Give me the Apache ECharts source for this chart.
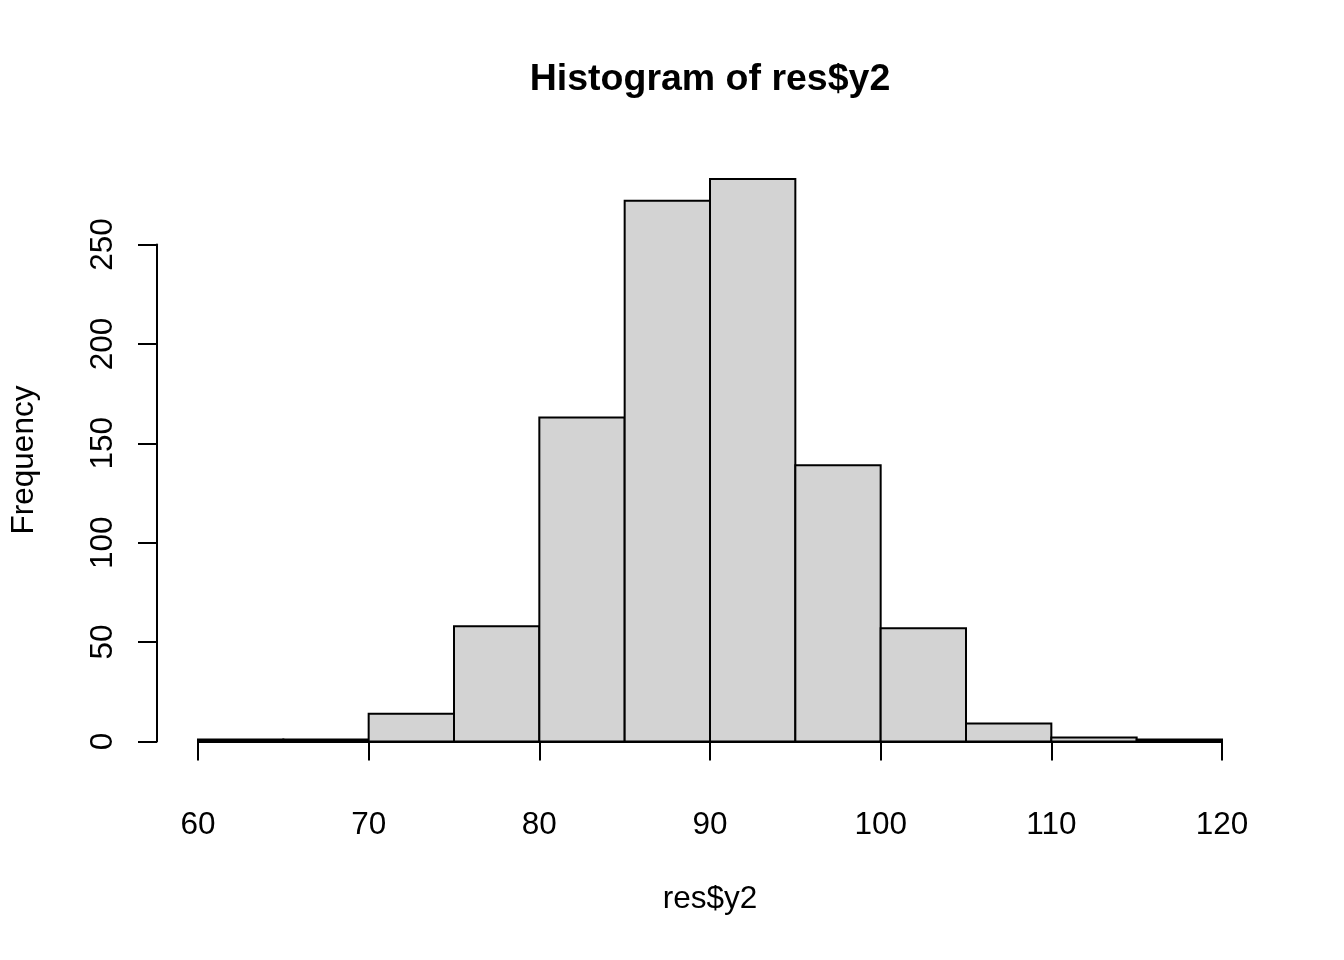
<!DOCTYPE html>
<html>
<head>
<meta charset="utf-8">
<script src="https://cdn.jsdelivr.net/npm/echarts@6/dist/echarts.min.js"></script>
<style>
html,body{margin:0;padding:0;background:#fff;}
#chart{width:1344px;height:960px;}
</style>
</head>
<body>
<div id="chart"></div>
<script>
// Data
const binStarts = [60, 65, 70, 75, 80, 85, 90, 95, 100, 105, 110, 115];
const binEnds   = [65, 70, 75, 80, 85, 90, 95, 100, 105, 110, 115, 120];
const counts    = [1, 1, 14, 58, 163, 272, 283, 139, 57, 9, 2, 1];
const xTicks = [60, 70, 80, 90, 100, 110, 120];
const yTicks = [0, 50, 100, 150, 200, 250];
const titleText = 'Histogram of res$y2';
const xLabel = 'res$y2';
const yLabel = 'Frequency';

const FONT = '"Liberation Sans", Arial, sans-serif';
const FS = 31.5;

const data = binStarts.map((s, i) => [s, binEnds[i], counts[i]]);

const chart = echarts.init(document.getElementById('chart'), null, {renderer: 'canvas'});
chart.setOption({
  animation: false,
  backgroundColor: '#ffffff',
  grid: {left: 198, right: 122, top: 244.5, bottom: 218.5, containLabel: false, outerBoundsMode: 'none'},
  xAxis: {
    type: 'value',
    min: xTicks[0], max: xTicks[xTicks.length - 1], interval: 10,
    offset: 22.5,
    axisLine: {show: true, lineStyle: {color: '#000', width: 2}},
    axisTick: {show: true, length: 19, lineStyle: {color: '#000', width: 2}},
    axisLabel: {show: true, color: '#000', fontSize: FS, fontFamily: FONT, margin: 45},
    splitLine: {show: false}
  },
  yAxis: {
    type: 'value',
    min: yTicks[0], max: yTicks[yTicks.length - 1], interval: 50,
    offset: 41,
    axisLine: {show: true, lineStyle: {color: '#000', width: 2}},
    axisTick: {show: true, length: 19, lineStyle: {color: '#000', width: 2}},
    axisLabel: {show: true, color: '#000', fontSize: FS, fontFamily: FONT, rotate: 90, margin: 38},
    splitLine: {show: false}
  },
  graphic: [
    {type: 'text', x: 710, y: 80, style: {text: titleText, fontSize: 37.5, fontWeight: 'bold', fontFamily: FONT, fill: '#000', align: 'center', verticalAlign: 'middle'}},
    {type: 'text', x: 710, y: 899, style: {text: xLabel, fontSize: FS, fontFamily: FONT, fill: '#000', align: 'center', verticalAlign: 'middle'}},
    {type: 'text', x: 24, y: 460, rotation: Math.PI / 2, style: {text: yLabel, fontSize: FS, fontFamily: FONT, fill: '#000', align: 'center', verticalAlign: 'middle'}}
  ],
  series: [{
    type: 'custom',
    clip: false,
    encode: {x: [0, 1], y: 2},
    data: data,
    renderItem: function (params, api) {
      const x0 = api.value(0), x1 = api.value(1), c = api.value(2);
      const pTop = api.coord([x0, c]);
      const pBot = api.coord([x1, 0]);
      return {
        type: 'rect',
        shape: {x: pTop[0], y: pTop[1], width: pBot[0] - pTop[0], height: pBot[1] - pTop[1]},
        style: {fill: '#d3d3d3', stroke: '#000', lineWidth: 2}
      };
    }
  }]
});
</script>
</body>
</html>
